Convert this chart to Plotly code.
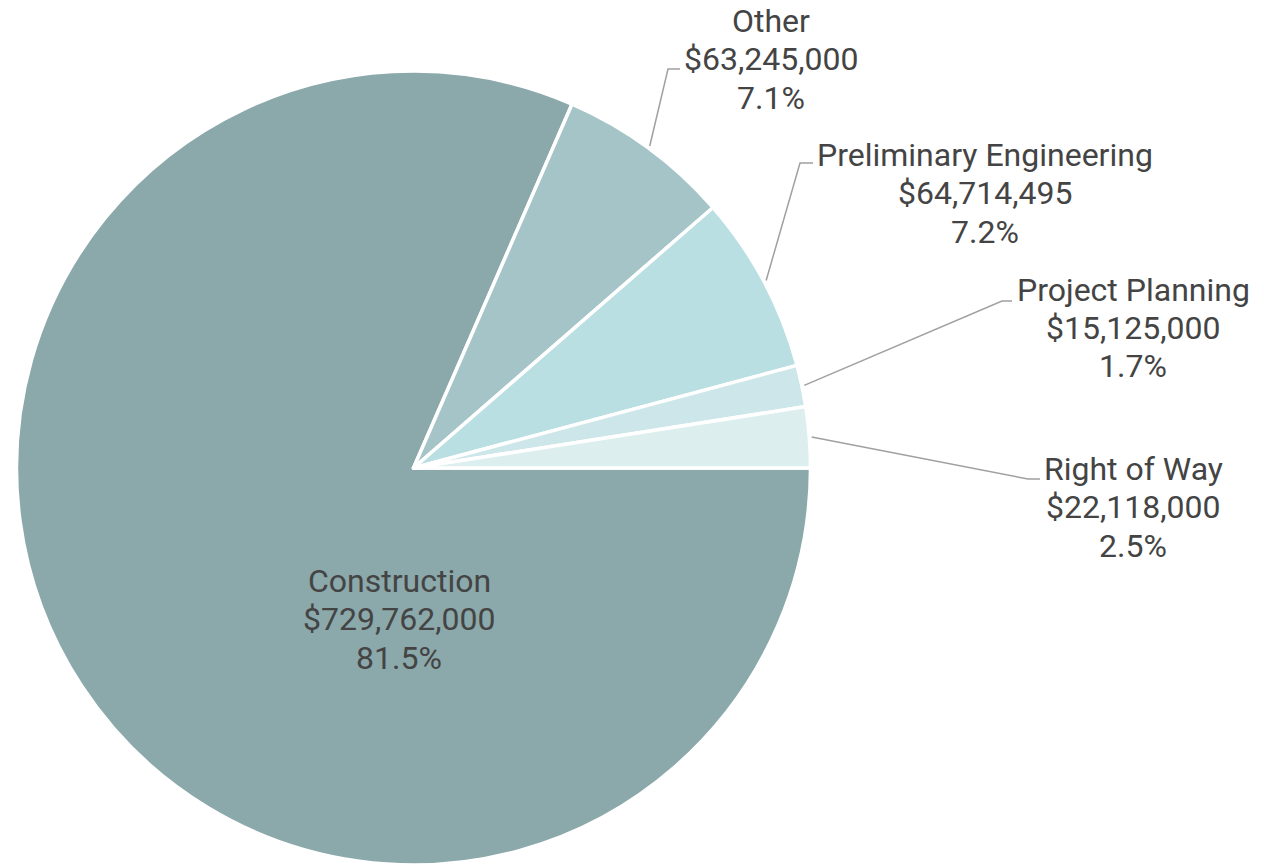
import math
import plotly.graph_objects as go

# ---- data ----
labels = ["Right of Way", "Project Planning", "Preliminary Engineering", "Other", "Construction"]
values = [22118000, 15125000, 64714495, 63245000, 729762000]
colors = ["#DDEEEF", "#CDE6E9", "#BADFE2", "#A4C4C7", "#8BA8AA"]

W, H = 1264, 865
CX, CY, R = 413.5, 468, 397

def px(x):
    return x / W

def py(y):
    return 1 - y / H

total = sum(values)
pcts = [v / total * 100 for v in values]

# drawn clockwise from 3 o'clock in reverse order, so slices read
# counterclockwise from 3 o'clock in the list order above
fig = go.Figure(go.Pie(
    labels=labels[::-1],
    values=values[::-1],
    sort=False,
    direction="clockwise",
    rotation=90,
    marker=dict(colors=colors[::-1], line=dict(color="white", width=3.5)),
    textinfo="none",
    hoverinfo="label+value+percent",
    showlegend=False,
    domain=dict(x=[px(CX - R), px(CX + R)], y=[0, py(CY - R)]),
))

# label layout (text centre, bend point, end of horizontal tick) in pixels
label_pos = {
    "Other": dict(text=(771, 59), bend=(668, 69), end=(680, 69)),
    "Preliminary Engineering": dict(text=(985, 193), bend=(800, 163), end=(813, 163)),
    "Project Planning": dict(text=(1133, 328), bend=(1002, 301), end=(1012, 301)),
    "Right of Way": dict(text=(1133, 507), bend=(1028, 479), end=(1040, 479)),
    "Construction": dict(text=(399, 619)),
}

LINE_H = 38.5
font = dict(family="Roboto", size=32, color="#444444")
shapes = []
annotations = []
cum = 0.0
for lab, v, p in zip(labels, values, pcts):
    mid = (cum + v / 2) / total * 2 * math.pi
    cum += v
    lines = [lab, f"${v:,.0f}", f"{p:.1f}%"]
    pos = label_pos[lab]
    tx, ty = pos["text"]
    for i, ln in enumerate(lines):
        annotations.append(dict(x=px(tx), y=py(ty + (i - 1) * LINE_H), xref="paper", yref="paper",
                                text=ln, showarrow=False, font=font,
                                xanchor="center", yanchor="middle", align="center"))
    if "bend" in pos:
        sx = CX + R * 1.006 * math.cos(mid)
        sy = CY - R * 1.006 * math.sin(mid)
        bx, by = pos["bend"]
        ex, ey = pos["end"]
        path = f"M {px(sx)} {py(sy)} L {px(bx)} {py(by)} L {px(ex)} {py(ey)}"
        shapes.append(dict(type="path", xref="paper", yref="paper", path=path,
                           line=dict(color="#A0A0A0", width=1.5)))

fig.update_layout(
    width=W, height=H,
    margin=dict(l=0, r=0, t=0, b=0),
    paper_bgcolor="white",
    plot_bgcolor="white",
    shapes=shapes,
    annotations=annotations,
    font=dict(family="Roboto"),
)

fig.write_html("out.html", config={"displayModeBar": False},
               post_script="document.body.style.margin='0';document.body.style.overflow='hidden';")
